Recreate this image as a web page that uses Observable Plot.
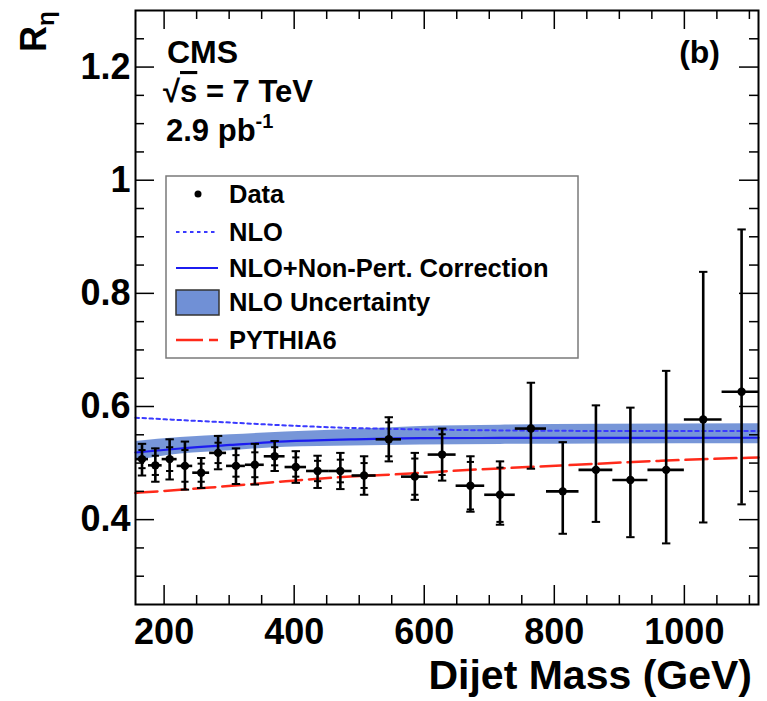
<!DOCTYPE html>
<html><head><meta charset="utf-8">
<script src="https://cdn.jsdelivr.net/npm/d3@7"></script>
<script src="https://cdn.jsdelivr.net/npm/@observablehq/plot@0.6"></script>
<style>
body{margin:0;background:#fff;}
#chart{width:767px;height:701px;}
</style>
</head><body><div id="chart"></div>
<script>
// ---- data ----
const binLow  = [156,176,197,220,244,270,296,325,354,386,419,453,489,526,565,606,649,693,740,788,838,890,944,1000,1058];
const binHigh = [176,197,220,244,270,296,325,354,386,419,453,489,526,565,606,649,693,740,788,838,890,944,1000,1058,1118];
const massCenter = [166,186.5,208.5,232,257,283,310.5,339.5,370,402.5,436,471,507.5,545.5,585.5,627.5,671,716.5,764,813,864,917,972,1029,1088];
const rEta    = [0.507,0.496,0.507,0.495,0.483,0.518,0.495,0.497,0.512,0.493,0.486,0.486,0.478,0.542,0.476,0.515,0.460,0.444,0.561,0.450,0.488,0.470,0.488,0.577,0.626];
const totLow  = [0.478,0.467,0.471,0.453,0.456,0.489,0.463,0.462,0.486,0.465,0.456,0.454,0.444,0.503,0.435,0.469,0.414,0.391,0.490,0.375,0.396,0.369,0.358,0.395,0.427];
const totHigh = [0.534,0.526,0.542,0.538,0.509,0.548,0.526,0.534,0.539,0.521,0.513,0.518,0.512,0.581,0.518,0.561,0.512,0.503,0.642,0.537,0.602,0.598,0.663,0.838,0.913];
const statErr = [0.016,0.017,0.021,0.028,0.016,0.018,0.019,0.022,0.016,0.017,0.018,0.020,0.022,0.030,0.032,0.036,0.042,0.048,null,null,null,null,null,null,null];

const theoryMass = [156,225,302,387,487,594,717,871,1114];
const nlo        = [0.5802,0.5760,0.5716,0.5666,0.5621,0.5595,0.5577,0.5568,0.5565];
const nloNP      = [0.5187,0.5258,0.5320,0.5382,0.5418,0.5441,0.5444,0.5446,0.5448];
const nloUncHigh = [0.5382,0.5450,0.5500,0.5550,0.5595,0.5648,0.5670,0.5685,0.5695];
const nloUncLow  = [0.5046,0.5160,0.5220,0.5280,0.5300,0.5320,0.5330,0.5338,0.5340];

const pythiaMass = [156,271,387,487,579,641,810,964,1114];
const pythia     = [0.4473,0.4567,0.4679,0.4762,0.4815,0.4860,0.4957,0.5040,0.5100];

const xMajor = [200,400,600,800,1000];
const xMinor = [250,300,350,450,500,550,650,700,750,850,900,950,1050,1100];
const yMajor = [0.4,0.6,0.8,1,1.2];
const yMinor = [0.3,0.35,0.45,0.5,0.55,0.65,0.7,0.75,0.85,0.9,0.95,1.05,1.1,1.15,1.25];

const legendLabels = ["Data","NLO","NLO+Non-Pert. Correction","NLO Uncertainty","PYTHIA6"];

// ---- tables ----
const points = massCenter.map((m,i)=>({m, r:rEta[i], lo:totLow[i], hi:totHigh[i], x1:binLow[i], x2:binHigh[i], s:statErr[i]}));
const caps = points.flatMap(p => [{m:p.m, y:p.lo},{m:p.m, y:p.hi}]);
const statCaps = points.filter(p=>p.s!=null).flatMap(p => [{m:p.m, y:p.r-p.s},{m:p.m, y:p.r+p.s}]);
const theory = theoryMass.map((m,i)=>({m, nlo:nlo[i], np:nloNP[i], hi:nloUncHigh[i], lo:nloUncLow[i]}));
const py = pythiaMass.map((m,i)=>({m, y:pythia[i]}));

const W=767, H=701, mL=135, mR=9, mT=10, mB=97;
const fw = W-mL-mR, fh = H-mT-mB;
const FONT = "'Liberation Sans', Arial, Helvetica, sans-serif";
const BAND = "#7090d6";

const hline = {draw(ctx, size){ const r = Math.sqrt(size/Math.PI); ctx.moveTo(-r,0); ctx.lineTo(r,0); }};

const chart = Plot.plot({
  width: W, height: H,
  marginLeft: mL, marginRight: mR, marginTop: mT, marginBottom: mB,
  x: {domain: [156, 1114], label: null},
  y: {domain: [0.25, 1.3], label: null},
  style: {fontFamily: FONT, fontWeight: "bold", background: "white", color: "black"},
  marks: [
    Plot.areaY(theory, {x:"m", y1:"lo", y2:"hi", fill: BAND, fillOpacity: 0.95, curve:"monotone-x"}),
    Plot.line(theory, {x:"m", y:"np", stroke:"#1c1cf0", strokeWidth:2.2, curve:"monotone-x"}),
    Plot.line(theory, {x:"m", y:"nlo", stroke:"#3a3aff", strokeWidth:2, strokeDasharray:"3.5,3.5", curve:"monotone-x"}),
    Plot.line(py, {x:"m", y:"y", stroke:"#ff2a1a", strokeWidth:2.5, strokeDasharray:"22,7", curve:"monotone-x"}),
    Plot.ruleX(points, {x:"m", y1:"lo", y2:"hi", stroke:"black", strokeWidth:2.6}),
    Plot.ruleY(points, {y:"r", x1:"x1", x2:"x2", stroke:"black", strokeWidth:2.6, clip:true}),
    Plot.dot(caps, {x:"m", y:"y", symbol: hline, r:4.2, stroke:"black", strokeWidth:2}),
    Plot.dot(statCaps, {x:"m", y:"y", symbol: hline, r:3.6, stroke:"black", strokeWidth:2}),
    Plot.dot(points, {x:"m", y:"r", r:4.2, fill:"black"}),
    // ticks inside the frame on all four sides
    Plot.tickX(xMajor, {x:d=>d, insetTop: fh-19, stroke:"black", strokeWidth:1.5}),
    Plot.tickX(xMinor, {x:d=>d, insetTop: fh-9, stroke:"black", strokeWidth:1.5}),
    Plot.tickX(xMajor, {x:d=>d, insetBottom: fh-19, stroke:"black", strokeWidth:1.5}),
    Plot.tickX(xMinor, {x:d=>d, insetBottom: fh-9, stroke:"black", strokeWidth:1.5}),
    Plot.tickY(yMajor, {y:d=>d, insetRight: fw-19, stroke:"black", strokeWidth:1.5}),
    Plot.tickY(yMinor, {y:d=>d, insetRight: fw-9, stroke:"black", strokeWidth:1.5}),
    Plot.tickY(yMajor, {y:d=>d, insetLeft: fw-19, stroke:"black", strokeWidth:1.5}),
    Plot.tickY(yMinor, {y:d=>d, insetLeft: fw-9, stroke:"black", strokeWidth:1.5}),
    Plot.axisX({ticks: xMajor, tickSize:0, tickPadding:14, fontSize:36, fontWeight:"bold", tickFormat:d=>String(d)}),
    Plot.axisY({ticks: yMajor, tickSize:0, tickPadding:5, fontSize:36, fontWeight:"bold", tickFormat:d=>String(d)}),
    Plot.frame({stroke:"black", strokeWidth:2})
  ]
});
document.getElementById("chart").appendChild(chart);

// ---- annotations & legend ----
const svg = d3.select(chart);
const g = svg.append("g").attr("font-family", FONT).attr("font-weight","bold")
  .attr("fill","black").attr("text-anchor","start");

g.append("text").attr("x",167).attr("y",63).attr("font-size",32).text("CMS");
const t2 = g.append("text").attr("x",163).attr("y",102).attr("font-size",31);
t2.append("tspan").text("√");
t2.append("tspan").attr("style","text-decoration: overline").text("s");
t2.append("tspan").text(" = 7 TeV");
const t3 = g.append("text").attr("x",166).attr("y",141).attr("font-size",31);
t3.append("tspan").text("2.9 pb");
t3.append("tspan").attr("font-size",20).attr("dy",-13).text("-1");
g.append("text").attr("x",720).attr("y",63).attr("font-size",32).attr("text-anchor","end").text("(b)");

g.append("text").attr("x",752).attr("y",689).attr("font-size",41).attr("text-anchor","end").text("Dijet Mass (GeV)");
const yt = g.append("text").attr("transform","translate(46,52) rotate(-90)").attr("font-size",36);
yt.append("tspan").text("R");
yt.append("tspan").attr("font-size",24).attr("dy",8).text("η");

// legend
const L = g.append("g");
L.append("rect").attr("x",166).attr("y",176).attr("width",412).attr("height",182)
  .attr("fill","white").attr("stroke","#7a7a7a").attr("stroke-width",1.5);
const rowsY = [194,232,268,302,340];
legendLabels.forEach((t,i)=>{
  L.append("text").attr("x",229).attr("y",rowsY[i]+9).attr("font-size",25.5).text(t);
});
L.append("circle").attr("cx",198).attr("cy",rowsY[0]).attr("r",3.5).attr("fill","black");
L.append("line").attr("x1",176).attr("x2",218).attr("y1",rowsY[1]).attr("y2",rowsY[1])
  .attr("stroke","#3a3aff").attr("stroke-width",2).attr("stroke-dasharray","3.5,3.5");
L.append("line").attr("x1",176).attr("x2",218).attr("y1",rowsY[2]).attr("y2",rowsY[2])
  .attr("stroke","#1c1cf0").attr("stroke-width",2.2);
L.append("rect").attr("x",176).attr("y",rowsY[3]-12).attr("width",43).attr("height",25)
  .attr("fill",BAND).attr("stroke","#333").attr("stroke-width",1.5);
L.append("line").attr("x1",176).attr("x2",218).attr("y1",rowsY[4]).attr("y2",rowsY[4])
  .attr("stroke","#ff2a1a").attr("stroke-width",2.5).attr("stroke-dasharray","27,6");
</script>
</body></html>
